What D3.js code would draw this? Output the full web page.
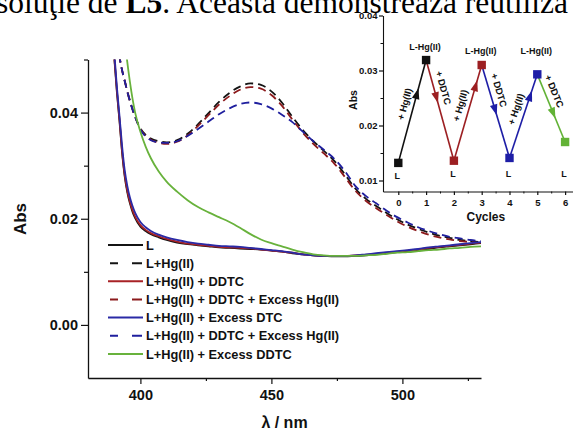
<!DOCTYPE html>
<html>
<head>
<meta charset="utf-8">
<script src="https://cdn.jsdelivr.net/npm/d3@7"></script>
<style>
  html, body { margin: 0; padding: 0; background: #fff; }
  svg { display: block; }
  .sans { font-family: "Liberation Sans", Arial, sans-serif; font-weight: bold; fill: #111; }
</style>
</head>
<body>
<svg id="chart" width="573" height="430"></svg>
<script>
// ---- UV-Vis spectra (absorbance vs wavelength, nm) ----
const wavelengths = [388, 389, 390, 391, 392, 393, 394, 395, 396, 397, 398, 400, 402, 404, 407, 410,
  414, 418, 422, 426, 430, 434, 438, 442, 446, 450, 454, 458, 462, 466, 470, 474, 478, 482, 486,
  490, 494, 498, 502, 506, 510, 514, 518, 522, 526, 530];

const absL = [.066, .058, .0505, .044, .0385, .0325, .0280, .0250, .0229, .0213, .0201, .0185, .0177,
  .0171, .0165, .0160, .0155, .0152, .0150, .0148, .0146, .0145, .0144, .0143, .0142, .0140, .0138,
  .0135, .0133, .0131, .0130, .0129, .0129, .0130, .0131, .0133, .0135, .0137, .0139, .0141, .0143,
  .0146, .0148, .0150, .0152, .0154];

const absLHg = [.068, .062, .0570, .0535, .0505, .0480, .0460, .0440, .0422, .0406, .0392, .0370,
  .0358, .0351, .0346, .0344, .0348, .0360, .0378, .0399, .0420, .0437, .0449, .0455, .0452, .0440,
  .0419, .0392, .0367, .0346, .0328, .0309, .0284, .0257, .0238, .0224, .0211, .0199, .0189, .0181,
  .0174, .0168, .0164, .0160, .0158, .0156];

const absLHgDDTC = [.066, .058, .0507, .0443, .0388, .0328, .0283, .0253, .0232, .0216, .0204, .0188,
  .0179, .0173, .0167, .0162, .0157, .0153, .0151, .0149, .0147, .0146, .0145, .0144, .0142, .0140,
  .0138, .0136, .0133, .0131, .0130, .0130, .0130, .0131, .0132, .0134, .0136, .0138, .0140, .0142,
  .0145, .0147, .0149, .0151, .0153, .0155];

const absLHgDDTCExHg = [.068, .062, .0570, .0535, .0505, .0480, .0460, .0440, .0422, .0406, .0392,
  .0369, .0356, .0349, .0343, .0341, .0345, .0357, .0375, .0395, .0415, .0431, .0443, .0448, .0445,
  .0433, .0413, .0387, .0362, .0341, .0323, .0304, .0279, .0253, .0234, .0220, .0207, .0195, .0185,
  .0177, .0170, .0165, .0161, .0158, .0156, .0154];

const absLHgExDTC = [.066, .059, .0515, .0450, .0395, .0338, .0292, .0262, .0240, .0224, .0211, .0194,
  .0184, .0177, .0170, .0165, .0160, .0156, .0153, .0151, .0149, .0148, .0147, .0145, .0143, .0141,
  .0139, .0136, .0133, .0131, .0130, .0130, .0130, .0131, .0133, .0135, .0137, .0139, .0141, .0143,
  .0146, .0148, .0150, .0152, .0154, .0156];

const absLHgDDTCExHg2 = [.068, .062, .0570, .0535, .0505, .0480, .0460, .0440, .0422, .0406, .0392,
  .0368, .0355, .0348, .0344, .0343, .0346, .0356, .0369, .0383, .0397, .0408, .0416, .0419, .0416,
  .0408, .0396, .0382, .0364, .0346, .0330, .0313, .0290, .0262, .0243, .0229, .0215, .0203, .0193,
  .0184, .0177, .0171, .0166, .0163, .0160, .0158];

const absLHgExDDTC = [.085, .080, .075, .070, .0645, .0590, .0540, .0495, .0458, .0426, .0400, .0364,
  .0336, .0314, .0289, .0270, .0251, .0235, .0222, .0212, .0203, .0194, .0183, .0171, .0161, .0154,
  .0148, .0142, .0137, .0133, .0131, .0130, .0130, .0130, .0131, .0132, .0134, .0136, .0137, .0139,
  .0141, .0142, .0144, .0145, .0147, .0148];

const seriesNames = ["L", "L+Hg(II)", "L+Hg(II) + DDTC", "L+Hg(II) + DDTC + Excess Hg(II)",
  "L+Hg(II) + Excess DTC", "L+Hg(II) + DDTC + Excess Hg(II)", "L+Hg(II) + Excess DDTC"];
const seriesValues = [absL, absLHg, absLHgDDTC, absLHgDDTCExHg, absLHgExDTC, absLHgDDTCExHg2, absLHgExDDTC];

const xTickValues = [400, 450, 500];
const xMinorTicks = [425, 475, 525];
const yTickValues = [0.00, 0.02, 0.04];
const yMinorTicks = [0.01, 0.03, 0.05];

// ---- reuse cycles (inset) ----
const cycles = [0, 1, 2, 3, 4, 5, 6];
const cycleAbs = [0.0132, 0.0319, 0.0136, 0.0310, 0.0141, 0.0293, 0.0170];
const cycleStateLabels = ["L", "L-Hg(II)", "L", "L-Hg(II)", "L", "L-Hg(II)", "L"];
const stepLabels = ["+ Hg(II)", "+ DDTC", "+ Hg(II)", "+ DDTC", "+ Hg(II)", "+ DDTC"];
const insetXTicks = [0, 1, 2, 3, 4, 5, 6];
const insetXMinor = [0.5, 1.5, 2.5, 3.5, 4.5, 5.5];
const insetYTicks = [0.01, 0.02, 0.03, 0.04];
const insetYMinor = [0.015, 0.025, 0.035];

// ---- styling ----
const seriesStyle = [
  { color: "#141414", dash: null },
  { color: "#141414", dash: "8,5" },
  { color: "#a82226", dash: null },
  { color: "#8c1a1c", dash: "8,5" },
  { color: "#2a2aa6", dash: null },
  { color: "#1f1f9e", dash: "8,5" },
  { color: "#68b23c", dash: null }
];
const cycleColors = ["#111", "#111", "#9c1f22", "#9c1f22", "#1e1ea6", "#1e1ea6", "#62b236"];
const stepColors = ["#111", "#9c1f22", "#9c1f22", "#1e1ea6", "#1e1ea6", "#62b236"];
const arrowAt = [0.67, 0.37, 0.78, 0.48, 0.74, 0.57];

const svg = d3.select("#chart");

// running text of the page above the figure
svg.append("text")
  .attr("x", -4).attr("y", 13)
  .style("font-family", '"Liberation Serif", "Times New Roman", serif')
  .style("font-size", "31.5px")
  .style("fill", "#000")
  .html('soluţie de <tspan font-weight="bold">L5</tspan>. Aceasta demonstrează reutiliza');

// ---- main plot ----
const x = d3.scaleLinear().domain([380, 530]).range([88, 481]);
const y = d3.scaleLinear().domain([-0.01, 0.05]).range([378, 59.5]);

svg.append("defs").append("clipPath").attr("id", "plotClip")
  .append("rect").attr("x", 88).attr("y", 59.5).attr("width", 393).attr("height", 318.5);

const line = d3.line()
  .x((d, i) => x(wavelengths[i]))
  .y(d => y(d))
  .curve(d3.curveMonotoneX);

const plot = svg.append("g").attr("clip-path", "url(#plotClip)");
seriesValues.forEach((vals, k) => {
  plot.append("path")
    .attr("d", line(vals))
    .attr("fill", "none")
    .attr("stroke", seriesStyle[k].color)
    .attr("stroke-width", 1.8)
    .attr("stroke-dasharray", seriesStyle[k].dash);
});

function styleAxis(g, size) {
  g.select(".domain").attr("stroke", "#111").attr("stroke-width", 1.3);
  g.selectAll(".tick line").attr("stroke", "#111").attr("stroke-width", 1.2);
  g.selectAll(".tick text").attr("class", "sans").style("font-size", size);
}

const yAxis = svg.append("g").attr("transform", "translate(88,0)")
  .call(d3.axisLeft(y).tickValues(yTickValues).tickFormat(d3.format(".2f"))
    .tickSize(7).tickPadding(3).tickSizeOuter(0));
styleAxis(yAxis, "14.5px");
svg.append("g").attr("transform", "translate(88,0)")
  .call(d3.axisLeft(y).tickValues(yMinorTicks).tickFormat("").tickSize(4).tickSizeOuter(0))
  .call(g => { g.select(".domain").remove(); g.selectAll("line").attr("stroke", "#111").attr("stroke-width", 1.2); });

const xAxis = svg.append("g").attr("transform", "translate(0,378)")
  .call(d3.axisBottom(x).tickValues(xTickValues).tickFormat(d3.format("d"))
    .tickSize(6).tickPadding(6).tickSizeOuter(0));
styleAxis(xAxis, "14.5px");
svg.append("g").attr("transform", "translate(0,378)")
  .call(d3.axisBottom(x).tickValues(xMinorTicks).tickFormat("").tickSize(3).tickSizeOuter(0))
  .call(g => { g.select(".domain").remove(); g.selectAll("line").attr("stroke", "#111").attr("stroke-width", 1.2); });

svg.append("text").attr("class", "sans")
  .attr("transform", "translate(26,219) rotate(-90)")
  .attr("text-anchor", "middle")
  .style("font-size", "17px")
  .text("Abs");

svg.append("text").attr("class", "sans")
  .attr("x", (88 + 481) / 2).attr("y", 428)
  .attr("text-anchor", "middle")
  .style("font-size", "16px")
  .text("λ / nm");

// legend
const legend = svg.append("g").attr("transform", "translate(0,245)");
seriesNames.forEach((name, k) => {
  const row = legend.append("g").attr("transform", `translate(0,${k * 18.15})`);
  if (seriesStyle[k].dash) {
    row.append("line").attr("x1", 110).attr("x2", 142).attr("y1", 0).attr("y2", 0)
      .attr("stroke", seriesStyle[k].color).attr("stroke-width", 2)
      .attr("stroke-dasharray", "8,14,10");
  } else {
    row.append("line").attr("x1", 108).attr("x2", 143).attr("y1", 0).attr("y2", 0)
      .attr("stroke", seriesStyle[k].color).attr("stroke-width", 2);
  }
  row.append("text").attr("class", "sans")
    .attr("x", 146).attr("y", 4.6)
    .style("font-size", "12.8px")
    .text(name);
});

// ---- inset: absorbance over reuse cycles ----
const xI = d3.scaleLinear().domain([-0.55, 6.5]).range([383, 579]);
const yI = d3.scaleLinear().domain([0.008, 0.04]).range([191.5, 15.5]);
const inset = svg.append("g");

const iy = inset.append("g").attr("transform", "translate(383,0)")
  .call(d3.axisLeft(yI).tickValues(insetYTicks).tickFormat(d3.format(".2f"))
    .tickSize(4).tickPadding(1.5).tickSizeOuter(0));
styleAxis(iy, "9.5px");
iy.select(".domain").attr("stroke-width", 1.1);
inset.append("g").attr("transform", "translate(383,0)")
  .call(d3.axisLeft(yI).tickValues(insetYMinor).tickFormat("").tickSize(2.5).tickSizeOuter(0))
  .call(g => { g.select(".domain").remove(); g.selectAll("line").attr("stroke", "#111"); });

const ix = inset.append("g").attr("transform", "translate(0,191.5)")
  .call(d3.axisBottom(xI).tickValues(insetXTicks).tickFormat(d3.format("d"))
    .tickSize(3.5).tickPadding(4).tickSizeOuter(0));
styleAxis(ix, "9.5px");
ix.select(".domain").attr("stroke-width", 1.1);
inset.append("g").attr("transform", "translate(0,191.5)")
  .call(d3.axisBottom(xI).tickValues(insetXMinor).tickFormat("").tickSize(2).tickSizeOuter(0))
  .call(g => { g.select(".domain").remove(); g.selectAll("line").attr("stroke", "#111"); });

inset.append("text").attr("class", "sans")
  .attr("transform", "translate(357,100) rotate(-90)")
  .attr("text-anchor", "middle")
  .style("font-size", "10.5px")
  .text("Abs");

inset.append("text").attr("class", "sans")
  .attr("x", xI(3.15)).attr("y", 221)
  .attr("text-anchor", "middle")
  .style("font-size", "12px")
  .text("Cycles");

const pts = cycles.map((c, i) => [xI(c), yI(cycleAbs[i])]);

// step segments with direction arrows and labels
for (let i = 0; i < pts.length - 1; i++) {
  const [x0, y0] = pts[i], [x1, y1] = pts[i + 1];
  const ang = Math.atan2(y1 - y0, x1 - x0) * 180 / Math.PI;
  inset.append("line")
    .attr("x1", x0).attr("y1", y0).attr("x2", x1).attr("y2", y1)
    .attr("stroke", stepColors[i]).attr("stroke-width", 1.6);
  const t = arrowAt[i];
  inset.append("path")
    .attr("d", "M6,0L-5,-3.8L-5,3.8Z")
    .attr("fill", stepColors[i])
    .attr("transform", `translate(${x0 + t * (x1 - x0)},${y0 + t * (y1 - y0)}) rotate(${ang})`);
  const up = y1 < y0;
  const tl = up ? 0.55 : 0.3;
  inset.append("text").attr("class", "sans")
    .attr("transform", `translate(${x0 + tl * (x1 - x0)},${y0 + tl * (y1 - y0)}) rotate(${ang})`)
    .attr("text-anchor", "middle")
    .attr("dy", -6)
    .style("font-size", "9.5px")
    .text(stepLabels[i]);
}

// cycle markers
inset.selectAll("rect.cyc").data(pts).join("rect")
  .attr("class", "cyc")
  .attr("x", d => d[0] - 4.2).attr("y", d => d[1] - 4.2)
  .attr("width", 8.4).attr("height", 8.4)
  .attr("fill", (d, i) => cycleColors[i]);

// state labels above / below markers
pts.forEach((p, i) => {
  const isL = cycleStateLabels[i] === "L";
  const ty = isL ? Math.max(p[1] + 16, 177) : Math.min(p[1] - 10, 53.5);
  inset.append("text").attr("class", "sans")
    .attr("x", p[0] - 1).attr("y", ty)
    .attr("text-anchor", "middle")
    .style("font-size", "9px")
    .text(cycleStateLabels[i]);
});
</script>
</body>
</html>
